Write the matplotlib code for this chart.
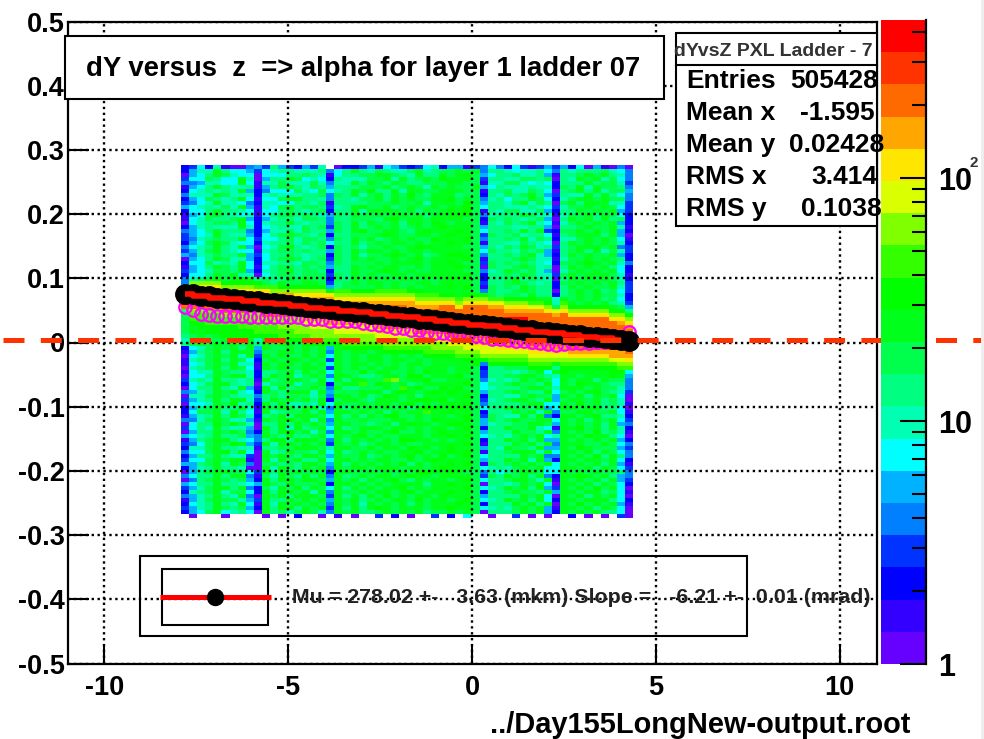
# dY versus z histogram for one PXL ladder, ROOT style
import matplotlib
matplotlib.use('Agg')
import matplotlib.pyplot as plt
import numpy as np
from matplotlib.colors import ListedColormap, BoundaryNorm
from matplotlib.patches import Rectangle
from matplotlib.ticker import FixedLocator, NullFormatter
from matplotlib import transforms

plt.rcParams['font.family'] = ['Liberation Sans', 'DejaVu Sans']
plt.rcParams['font.weight'] = 'bold'
plt.rcParams['axes.unicode_minus'] = False

W, H = 984, 739

palette = ['#6600ff', '#3300ff', '#0000ff', '#0033ff', '#0080ff', '#00b2ff', '#00ffff',
           '#00ffb2', '#00ff80', '#00ff4d', '#00ff1a', '#00ff00', '#33ff00', '#80ff00',
           '#d9ff00', '#ffe600', '#ffa600', '#ff6a00', '#ff3300', '#ff0000']
level_chars = '0123456789abcdefghij'
z_max = 447

# palette level of each cell, top row first, one char per z bin ('.' = empty)
cells = [
    '23627100 45385325 37.02235 16532367 25513464 26313535 26051040',
    '2577a866 53678877 78468a87 98779a78 99a9a488 76778648 78889764',
    '0568a976 60666889 87168899 aa987a88 a9ab9568 89778518 89a9a874',
    '3669866a 70588a96 76287779 9a7a89a9 baaa9388 77998908 7a9a7964',
    '4457766a 61779777 97477a8a 98a98899 9aa99177 99767628 88a89973',
    '1568a877 81589a87 98588899 9a89a97a 9a99a568 77787729 8a7a9984',
    '2678787a 52466697 69678a9b 88a7aa99 aaa99188 97798608 9a8a7995',
    '4777a977 72787778 89498a79 a8a9b98a aa899287 989a8538 77a8a864',
    '2569878a 61669aa8 87488799 a8a9a99a ab9a9478 688a9627 9aa9a994',
    '3467a776 42776688 79188889 99a99a7a aa9b9588 79a79809 a8aaa773',
    '5678797a 51769a89 98378ab9 9a89a99a 9aab9688 77787637 99a9a963',
    '2668a887 61668987 89288a7a aaa9a8a9 abab9187 99779528 8a9a9a53',
    '1569a876 71689a89 87598a99 a9aa9a8a aabb9478 88a97717 99a8a962',
    '1679889a 52578879 98488999 8ab9aa9a aaa99298 98789508 a9a8a892',
    '0678998a 62788a87 88498a8a 99a8aa9b a9aa9187 989a7617 9a9a9a52',
    '2578777a 72678779 89398a89 a9a89a9a baaa9588 87788508 89a99a71',
    '4568a888 42577979 88598ab9 9aa98aba aaba9688 98a8a329 9a9a9a52',
    '3567a877 52689a98 79288999 aba99aa9 abaa9398 89788618 9aaa8a50',
    '3478988a 63668979 98498a9a 89a9a99b aaab9488 98a79827 79a9a961',
    '2569a976 62788979 89688a89 a9aa9a9a abaa9188 77987608 a9a9a972',
    '4678a87a 50679a87 89298979 9a99abba aaa99587 98a97838 9aaa9a43',
    '3579a876 61789989 88598a9a a9a9aa9a aaaa9698 87989518 9a8a7973',
    '5478988a 53688987 88298a79 9aba9a89 abba9488 989a7528 a9a99a52',
    '0568a977 52689a97 89398a9a 99a9ab9a aaab9188 89a97717 99a9a982',
    '2669787a 62778879 98498999 a9aaaa9a aba99398 98987629 9aba9a74',
    '1568a98a 61689989 89588a9a 9aa99a9a aaba9098 89a97808 a9a9a862',
    '3567998a 52789a89 98288a99 aba9a99a aaa99478 a9897507 9a9a9a62',
    '2668a9a7 70689989 99398a9a 99aa9aaa aaab9288 98a97739 a9aaa971',
    '4789a9ab a8988a9a 99298a9a 9a9aa9a9 abaa9288 9a898708 a9a9a972',
    '4ddddbbb bb98a99a a9389a9a a9a99aa9 aaaa9388 9a987829 9a9a9a83',
    '6ffffddd dcccbbbb bb589999 a9a9a9aa abab9198 98a98828 a9a99a73',
    '9jjjjgff fffddddd ddbccbbb ccccbbaa aaaa9498 89a98808 9a9a8963',
    'jjjjjjjj jgggggff fffddddd dddddccc bbabbb98 998a8828 9a9a9972',
    'jjjjjjjj jjjjjjgg gggfffff fffffddd ddcdddcc bbbbaa7a 9a9a8962',
    'jjjjjjjj jjjjjjjj jjjggggg gggggfff ffdfffee dddccb7c a9a9a873',
    'hhhhhjjj jjjjjjjj jjjjjjjj hhhhgggg hhfhhhgg fffeed9d bbbbba95',
    '8ddddhhh hhjjjjjj jjjjjjjj jjjjjhhh hhhhhhhh gggggfef dddddbb8',
    '9ccccddd ddhhhhhj jjjjjjjj jjjjjjjj jhhhhhhh hhhhhhgh fffffddb',
    '9ccccccd dddddddg gggjjjjj jjjjjjjj jjjjjjhh jjjhhhhh hhhhhffd',
    '9bbccccc cdddddde eegggggg jjjjjjjj jjjjjjjj jjjhhhhh hhhhhhgf',
    '9abbbbbc ccccdddd eeeeeeee ghhhhjjj jjjjjjjj jjjjjjjj hhhhhhhg',
    '9aabbbbb bcccccdd dddeeeee fffffhhh hjjjjjjj jjjjjjjj jjjjhhhh',
    '89a9abbb bbbbcccc dddddddd eeeeeeff fhhhhhjj jjjjjjjj jjjjjjjj',
    '79899a9a a7bbbbbb ccccdddd dddddeee fffggghh hhhjjjjj jjjjjjjj',
    '89a9a9a9 a8a9aa9b bbbbcccc cddddddd deeeffgg ggghhhhh jjjjjjjj',
    '2679a9a8 a5a99a9a 9a5abbbb bccccccd dddeeeef fffggggg hhhhhjjj',
    '1589a8aa a499aa9a 9a4a9aa9 abbbbbcc ccdddeee eeefffff gggggggh',
    '0679a9a7 a3a9a99a 9a6a9a9a a9a9a9bb bbcccddd dddeeeee fffffggg',
    '1789a8a9 629a9aa9 a93a9a9a a9aa9a9a aaabbbcc cccddddd dddddeef',
    '1679a9a7 71a9aa9a 9a6a9aa9 a9a9aa9a aaaab4bb bbbcccac ccccccdd',
    '0789a8a9 61a9a99a a93a9a9a 9aa9a9aa a9aa9288 999bbb8b bbbbbbcc',
    '1677a988 72889a8a 9a6a99b9 aa99a9ba a9aa9388 8789a6ab aaaaabb6',
    '0668a9aa 728a9a79 a94aa988 9aa9bb9a aab99388 99aa987a a9aaaba5',
    '3787a887 81a89aa9 8a6a8aa9 9cd9aab9 9aaa9478 78a9a96a 9aa8a994',
    '2679aa87 80799a79 9a29aac9 ba9a89aa aaab9688 9a998a6a 9baa9884',
    '0688a87a 51a7a899 a94a8899 9a9cab99 bab99678 889aa97a aa9a9974',
    '4578a9a7 62a98aaa 7a5999aa a8aba9ab abaa9588 9a988a69 a9ab9873',
    '0779a987 74898999 794aa9a8 9ba9a8aa aaab9288 779a995a 9a8a9a60',
    '3578a8aa 738a9a9a 8a29aa98 aaa9abba b9aa9378 9aa98a59 aa9a8970',
    '0667a9b7 82a8a778 7a6a99a9 aa9ab9a9 abab9488 889aa66a 9b9a8971',
    '2589a88a 71a9aa8a a74a8a9a 9a9a8abb aaba9688 a998a56a a9aa8860',
    '2699a7a8 61a7899a 8a5aa9a9 a8a9aaca abaa9288 8a9a7a49 9aa99a61',
    '1578a8a9 7289a8aa a96a8a8a 9bb99a9a a9ab9398 77a8a42a a9ab8872',
    '4479a977 51a9ab9a 7a4a99a9 99aa9a9b aaab9598 9a99aa6a 9a8a9a63',
    '0688b9a9 7088a8a9 a95aa998 9a8abaa9 abba9578 899aa95a 9a9a8a54',
    '3687a877 50a8a7a8 9a6a89aa a9aa9a9a a9ab9288 a99a761a ab9a8a72',
    '0588a9a9 42a8ab9a 794aa9a9 9ab99a9a baaa9588 8a998a4a 9a9b8971',
    '5678a889 54a98a88 9a6a9ab9 a99aaa9a abab9678 79a9a67a a9baa860',
    '1589aa87 648aa8aa a94a8a9a 9a9bbaa9 a9aa9288 a9a8a55a 9a9a9a52',
    '3469a9ba 53a7aa9a 9a3a9a89 aa9a99aa aaab9188 8a9a8a4a aa99a964',
    '2779a887 718899aa a97aa99a 9aa9baa9 abaa9587 a998a55a 9ba99953',
    '4669ab8a 60a78a99 8a6a89a9 a99aab9a abab9188 9aaa7a6a a9a8a964',
    '2588a877 30a9a98a a95a99a8 9a9ab9a9 b9ab9688 88a9a44a 9a9b8a84',
    '3669a9aa 10a7a9a8 8a6aa9a9 aa99a9ab aaaa9588 a9a7a52a a9aa9a62',
    '5589a7a9 4099898a a95a8a9a 9a9b8a9a abab9198 9a9a9a6a 9a9a8a51',
    '2578a887 00a7a98a 9a4a9aa9 aaa9aa9a baaa9678 79a9a66a a9a8a963',
    '0589aa99 63a8a9a9 a92aa99a 9a9a9bba aba99486 89aa966a 9a9a9984',
    '4688a8aa 4197a98a 8a4a89a9 aa9abaa9 aaaa9398 a9a8a42a aba9a854',
    '0489a989 52a8aa9a a95a9a8a 9ab98a9a a9ab9688 9aa97a1a 9a9a8a53',
    '5688a887 65a98a99 9a2aa9a9 a9aaaa8a abaa9088 78a9a60a a9a8a962',
    '3579aa8a 4297a9a8 a96a8a9a 9aab9a9a aaab9678 a9a8a53a 9a9b9a60',
    '2789a799 62a8aa9a 7a4a99a9 aa9ab9aa abaa9288 9a998a5a a9aa8961',
    '4578a87a 40a9a8aa a93a8a8a 9b9a9aa9 baaa9588 88a9a60a 9a8a9a60',
    '1579a997 53a88a9a 9a5a9a89 a9aa9b9a a9ab9678 a9a8a62a a9aaa862',
    '2678a87a 61a7a9a9 a94a9a7a 9a9a8a9a aaba9288 8a9a8a0a 9b9a9a51',
    '3578a989 52a8aa8a 9a3a8a8a ba9aaa9a abaa9678 79a9a51a a9a8a960',
    '2569a678 60a8979a 974a9a88 9a9a9a89 9a9a9088 89a9a52a 9a9a8860',
    '.0...0.. ..0.0.2. .0.1.0.. 3.2.0..3 .2.6..0. .3.0.0.. 2.0.0.30',
]

# profile means (black points) and the second set (magenta circles), one per z bin
mean_y = [.076, .075, .073, .072, .070, .069, .068, .066, .065, .064,
          .062, .061, .060, .058, .057, .056, .054, .053, .052, .050,
          .049, .048, .047, .045, .044, .043, .041, .040, .039, .037,
          .036, .035, .033, .032, .031, .029, .028, .027, .025, .024,
          .023, .021, .020, .019, .017, .016, .015, .013, .012, .011,
          .009, .008, .007, .005, .004, .003]
other_y = [.056, .050, .045, .0435, .042, .042, .042, .042, .040, .040,
           .040, .040, .039, .039, .039, .037, .037, .036, .034, .034,
           .033, .033, .031, .0295, .0265, .025, .023, .022, .020, .019,
           .017, .0155, .0155, .014, .0125, .011, .0095, .008, .006, .006,
           .0045, .003, .003, .0015, 0, -.003, -.0045, -.003, -.0015, -.0015,
           0, .0015, .0015, .003, .009, .017]
dashed_y = 0.004

x_ticks = [-10, -5, 0, 5, 10]
y_ticks = [-0.5, -0.4, -0.3, -0.2, -0.1, 0, 0.1, 0.2, 0.3, 0.4, 0.5]
y_labels = ['-0.5', '-0.4', '-0.3', '-0.2', '-0.1', '0', '0.1', '0.2', '0.3', '0.4', '0.5']

stat_names = ['Entries', 'Mean x', 'Mean y', 'RMS x', 'RMS y']
stat_values = ['505428', '-1.595', '0.02428', '3.414', '0.1038']


def px_axes(left, top, right, bottom):
    return fig.add_axes([left / W, 1 - bottom / H, (right - left) / W, (bottom - top) / H])


# turn the level strings into a numeric grid
rows = [r.replace(' ', '') for r in cells]
grid = np.array([[np.nan if ch == '.' else level_chars.index(ch) for ch in r] for r in rows])

fig = plt.figure(figsize=(W / 100, H / 100), dpi=100, facecolor='white')
ax = px_axes(67.5, 21.5, 876.5, 663.5)

cmap = ListedColormap(palette)
norm = BoundaryNorm(np.arange(21) - 0.5, 20)
x_edges = np.linspace(-7.91, 4.375, grid.shape[1] + 1)
y_edges = np.linspace(0.2765, -0.2735, grid.shape[0] + 1)
ax.pcolormesh(x_edges, y_edges, grid, cmap=cmap, norm=norm, zorder=1)

x_centers = (x_edges[:-1] + x_edges[1:]) / 2
ax.plot(x_centers, other_y, 'o', mfc='none', mec='#ff00ff', mew=1.6, ms=9, zorder=3)
ax.plot(x_centers, mean_y, 'o', color='black', ms=14, zorder=4)
ax.step(x_centers[::2], mean_y[::2], where='mid', color='#ff1000', lw=4,
        solid_capstyle='butt', zorder=5)

# dashed line runs over the whole figure width
trans = transforms.blended_transform_factory(fig.transFigure, ax.transData)
ax.plot([2.5 / W, 1], [dashed_y, dashed_y], transform=trans, clip_on=False, color='#ff3300',
        lw=3.6, dashes=(4.2, 3.26), dash_capstyle='butt', zorder=6)

ax.set_xlim(-11, 11)
ax.set_ylim(-0.5, 0.5)
ax.set_xticks(x_ticks)
ax.set_yticks(y_ticks)
ax.set_yticklabels(y_labels)
ax.grid(True, color='black', lw=1.7, linestyle=(0, (1, 1.5)), zorder=2.5)
ax.set_axisbelow(False)
ax.tick_params(axis='x', direction='in', length=14, width=1.5, labelsize=19.5, pad=8, zorder=2.5)
ax.tick_params(axis='y', direction='in', length=15, width=1.5, labelsize=19.5, pad=2, zorder=2.5)
for spine in ax.spines.values():
    spine.set_linewidth(1.6)

# colour scale
cax = px_axes(881, 20, 926, 664)
z_edges = np.geomspace(1, z_max, 21)
cax.pcolormesh([0, 1], z_edges, np.arange(20).reshape(-1, 1), cmap=cmap, norm=norm)
cax.set_yscale('log')
cax.set_ylim(1, z_max)
cax.set_xticks([])
cax.yaxis.tick_right()
cax.yaxis.set_major_locator(FixedLocator([1, 10, 100]))
cax.set_yticklabels(['1', '10', '10'])
cax.yaxis.set_minor_locator(FixedLocator([2, 3, 4, 5, 6, 7, 8, 9, 20, 30, 40, 50, 60, 70, 80, 90,
                                          200, 300, 400]))
cax.yaxis.set_minor_formatter(NullFormatter())
cax.tick_params(axis='y', which='major', direction='in', length=18.5, width=1.5,
                labelsize=22, pad=9)
cax.tick_params(axis='y', which='minor', direction='in', length=10, width=1.5)
for name in ['left', 'top', 'bottom']:
    cax.spines[name].set_visible(False)
cax.spines['right'].set_linewidth(1.6)

# title, stats and fit boxes, in pixel coordinates
ov = fig.add_axes([0, 0, 1, 1], zorder=10)
ov.set_xlim(0, W)
ov.set_ylim(H, 0)
ov.axis('off')
ov.patch.set_alpha(0)


def box(left, top, right, bottom, fill='white'):
    ov.add_patch(Rectangle((left, top), right - left, bottom - top, fc=fill, ec='black', lw=1.5))


ov.add_patch(Rectangle((980.5, 0), 3.5, H, fc='#eeeeee', ec='none'))

box(65, 36, 664, 99)
ov.text(363, 76, 'dY versus  z  => alpha for layer 1 ladder 07', fontsize=19.8, ha='center', va='baseline')

box(676, 33, 877, 226)
ov.plot([676, 877], [65, 65], color='black', lw=1.5)
ov.text(773, 56, 'dYvsZ PXL Ladder - 7', fontsize=14, color='#333333', ha='center', va='baseline')
right_edges = [878, 875, 884, 877, 882]
for i in range(5):
    row_y = 88 + 32 * i
    ov.text(686, row_y, stat_names[i], fontsize=19, ha='left', va='baseline')
    ov.text(right_edges[i], row_y, stat_values[i], fontsize=19, ha='right', va='baseline')

box(140, 556, 747, 636, fill='none')
box(162, 569, 268, 625, fill='none')
ov.plot([160, 271], [597, 597], color='red', lw=3.6, solid_capstyle='butt')
ov.plot([215], [597], 'o', color='black', ms=11.5)
ov.text(292, 603, 'Mu = 278.02 +-   3.63 (mkm) Slope =   -6.21 +-  0.01 (mrad)', fontsize=15.4,
        color='#222222', ha='left', va='baseline')

ov.text(970, 163, '2', fontsize=11, color='#333333', ha='left', va='center')
ov.text(910, 733, '../Day155LongNew-output.root', fontsize=20.9, ha='right', va='baseline')

fig.savefig('out.png', dpi=100)
